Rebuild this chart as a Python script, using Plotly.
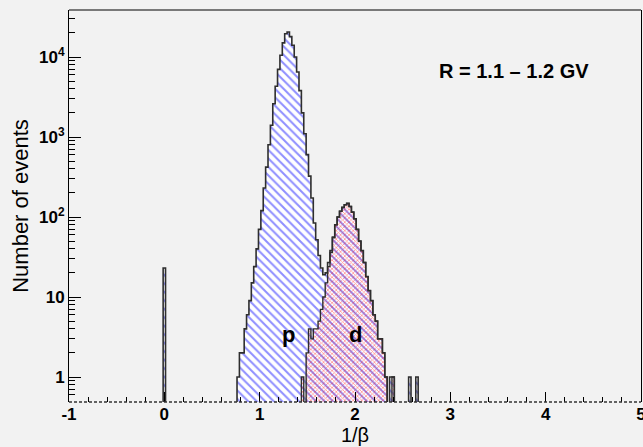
import numpy as np
import plotly.graph_objects as go

# ---------------- data ----------------
BIN_W = 0.025
X_MIN, X_MAX = -1.0, 5.0

# proton-like main peak: first bin centre and counts per 0.025 bin
p_first_center = 0.775
p_counts = [1, 2, 2, 4, 6, 9, 15, 24, 40, 70, 120, 230, 420, 800, 1400, 2600,
            4300, 7000, 10500, 15000, 19500, 20500, 18000, 14000, 10000, 6500,
            3800, 2000, 1100, 600, 320, 170, 80, 48, 28, 16, 9, 5, 3, 2, 1]

# deuteron peak (red) : first bin centre and counts
d_first_center = 1.45
d_counts = [1, 0, 2, 4, 3, 4, 4, 5, 7, 10, 15, 24, 36, 55, 80, 100, 118, 132,
            142, 148, 135, 115, 95, 70, 50, 38, 27, 18, 12, 9, 6, 5, 3, 3, 2,
            1, 0, 0, 1]

# isolated bins belonging only to the total histogram
extra_centers = [0.0, 2.375, 2.575, 2.65]
extra_counts = [23, 1, 1, 1]

x_ticks = [-1, 0, 1, 2, 3, 4, 5]
y_ticks = [1, 10, 100, 1000, 10000]
y_ticktext = ["<b>1</b>", "<b>10</b>", "<b>10<sup>2</sup></b>",
              "<b>10<sup>3</sup></b>", "<b>10<sup>4</sup></b>"]

# ---------------- build histograms on a common grid ----------------
k_min = int(round(X_MIN / BIN_W))
k_max = int(round(X_MAX / BIN_W))
grid_centers = np.arange(k_min, k_max + 1) * BIN_W
n = len(grid_centers)


def fill_grid(first_center, counts):
    arr = np.zeros(n)
    k0 = int(round(first_center / BIN_W)) - k_min
    for i, c in enumerate(counts):
        arr[k0 + i] += c
    return arr


p_grid = fill_grid(p_first_center, p_counts)
d_grid = fill_grid(d_first_center, d_counts)
extra_grid = np.zeros(n)
for c, v in zip(extra_centers, extra_counts):
    extra_grid[int(round(c / BIN_W)) - k_min] += v
total_grid = p_grid + d_grid + extra_grid

FLOOR = 0.1


def step_xy(centers, counts):
    xs, ys = [centers[0] - BIN_W / 2], [FLOOR]
    for c, v in zip(centers, counts):
        v = v if v > 0 else FLOOR
        xs += [c - BIN_W / 2, c + BIN_W / 2]
        ys += [v, v]
    xs.append(centers[-1] + BIN_W / 2)
    ys.append(FLOOR)
    return xs, ys


tx, ty = step_xy(grid_centers, total_grid)
dx, dy = step_xy(grid_centers, d_grid)

OUTLINE = "#2e2e2e"
FONT = "Liberation Sans, Arial, sans-serif"
BG = "#f2f2f2"

fig = go.Figure()
fig.add_trace(go.Scatter(
    x=tx, y=ty, mode="lines", fill="toself", fillcolor="white",
    fillpattern=dict(shape="\\", fgcolor="#1f1fff", bgcolor="white",
                     size=6, solidity=0.34),
    line=dict(color=OUTLINE, width=1.6), hoverinfo="skip", showlegend=False))
fig.add_trace(go.Scatter(
    x=dx, y=dy, mode="lines", fill="toself", fillcolor="rgba(0,0,0,0)",
    fillpattern=dict(shape="x", fgcolor="#ff2a2a", bgcolor="rgba(0,0,0,0)",
                     size=3, solidity=0.45),
    line=dict(color=OUTLINE, width=1.4), hoverinfo="skip", showlegend=False))

fig.update_layout(
    width=643, height=447,
    margin=dict(l=69, r=2, t=10, b=45),
    paper_bgcolor=BG, plot_bgcolor=BG,
    font=dict(family=FONT, color="black"),
    xaxis=dict(range=[X_MIN, X_MAX], tickvals=x_ticks,
               ticktext=[f"<b>{v}</b>" for v in x_ticks],
               tickfont=dict(size=17), ticks="inside", ticklen=10,
               tickcolor="black", tickwidth=1, automargin=False,
               ticklabeloverflow="allow",
               minor=dict(dtick=0.2, tick0=0, ticks="inside", ticklen=5,
                          tickcolor="black", showgrid=False),
               showgrid=False, zeroline=False, showline=False,
               title=dict(text="1/β", font=dict(size=20), standoff=0)),
    yaxis=dict(type="log", range=[-0.3125, 4.5875], tickvals=y_ticks,
               ticktext=y_ticktext, tickfont=dict(size=17), automargin=False,
               ticks="inside", ticklen=12, tickcolor="black", tickwidth=1,
               minor=dict(dtick="D1", ticks="inside", ticklen=6,
                          tickcolor="black", showgrid=False),
               showgrid=False, zeroline=False, showline=True, mirror=True,
               linecolor="black", linewidth=1,
               title=dict(text="Number of events", font=dict(size=22),
                          standoff=4)),
    shapes=[
        dict(type="line", xref="paper", yref="paper", x0=0, x1=1, y0=1, y1=1,
             line=dict(color="black", width=1)),
        dict(type="line", xref="paper", yref="paper", x0=0, x1=1, y0=0, y1=0,
             line=dict(color="#333333", width=1.5, dash="3px,2px")),
    ],
    annotations=[
        dict(text="<b>R = 1.1 – 1.2 GV</b>", x=3.67, y=0.878, xref="x",
             yref="paper", showarrow=False, font=dict(size=20)),
        dict(text="<b>p</b>", x=1.30, y=0.135, xref="x", yref="paper",
             showarrow=False, font=dict(size=22)),
        dict(text="<b>d</b>", x=2.01, y=0.135, xref="x", yref="paper",
             showarrow=False, font=dict(size=22)),
    ],
)

fig.write_html(
    "out.html",
    config={"displayModeBar": False},
    post_script="document.body.style.margin='0';document.body.style.padding='0';"
                "document.body.style.background='#f2f2f2';",
)
